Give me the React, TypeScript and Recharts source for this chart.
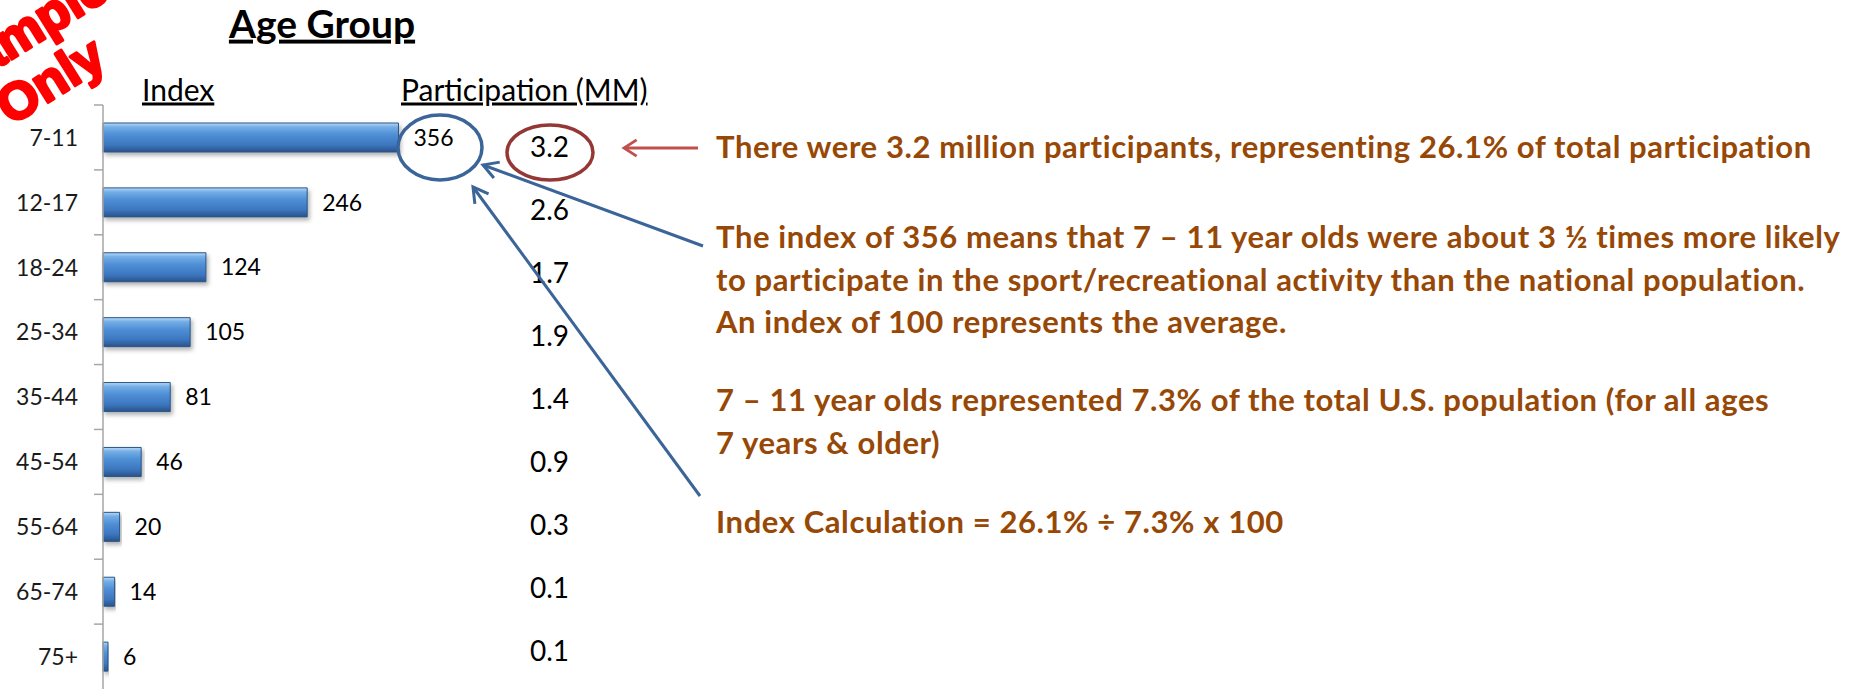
import React from 'react';
import { BarChart, Bar, XAxis, YAxis, LabelList } from 'recharts';

// ---- data ----
const ageGroups = ['7-11', '12-17', '18-24', '25-34', '35-44', '45-54', '55-64', '65-74', '75+'];
const indexValues = [356, 246, 124, 105, 81, 46, 20, 14, 6];
const participationMM = ['3.2', '2.6', '1.7', '1.9', '1.4', '0.9', '0.3', '0.1', '0.1'];

const chartData = ageGroups.map((age, i) => ({ age, index: indexValues[i], participation: participationMM[i] }));

// ---- layout ----
const W = 1862;
const H = 689;
const TOP = 105;
const AXIS_X = 103;
const BAND = (H - TOP) / ageGroups.length;
const FONT = "Lato, 'Open Sans', sans-serif";
const BROWN = '#974806';
const BLUE_LINE = '#3b6598';

const CategoryTick = (props: any) => {
  const { x, y, payload } = props;
  return (
    <g>
      <line x1={AXIS_X - 9} x2={AXIS_X} y1={y - BAND / 2} y2={y - BAND / 2} stroke="#a6a6a6" strokeWidth={1.5} />
      <text x={x} y={y} dy="0.36em" textAnchor="end" fontFamily={FONT} fontSize={23} fill="#1a1a1a">
        {payload.value}
      </text>
    </g>
  );
};

const ParticipationTick = (props: any) => {
  const { x, y, index } = props;
  return (
    <text x={x} y={y} dy="0.36em" textAnchor="start" fontFamily={FONT} fontSize={28} fill="#000">
      {participationMM[index]}
    </text>
  );
};

function arrowHead(tx: number, ty: number, fx: number, fy: number, len: number, ang: number) {
  const a = Math.atan2(fy - ty, fx - tx);
  const p1 = [tx + len * Math.cos(a + ang), ty + len * Math.sin(a + ang)];
  const p2 = [tx + len * Math.cos(a - ang), ty + len * Math.sin(a - ang)];
  return `M${p1[0]},${p1[1]} L${tx},${ty} L${p2[0]},${p2[1]}`;
}

const Overlay = () => (
  <svg width={W} height={H} style={{ position: 'absolute', left: 0, top: 0, pointerEvents: 'none' }}>
    {/* Sample Only stamp */}
    <g transform="translate(50,80) rotate(-32)" fontFamily="'Liberation Sans', Arial, sans-serif" fontWeight={700} fontSize={52} fill="#ff0000" stroke="#ff0000" strokeWidth={3} strokeLinejoin="round" textAnchor="middle">
      <text x={4} y={-56} dy="0.35em">Sample</text>
      <text x={0} y={0} dy="0.35em">Only</text>
    </g>

    {/* headers */}
    <text x={322} y={24} dy="0.35em" textAnchor="middle" fontFamily={FONT} fontWeight={700} fontSize={39} fill="#000" textDecoration="underline">Age Group</text>
    <text x={142} y={90} dy="0.35em" fontFamily={FONT} fontSize={30} fill="#000" textDecoration="underline">Index</text>
    <text x={401} y={90} dy="0.35em" fontFamily={FONT} fontSize={30} fill="#000" textDecoration="underline">Participation (MM)</text>

    {/* circles */}
    <ellipse cx={440} cy={147.5} rx={42} ry={32.5} fill="none" stroke={BLUE_LINE} strokeWidth={3.5} />
    <ellipse cx={550} cy={152.5} rx={43} ry={27.5} fill="none" stroke="#953735" strokeWidth={3.5} />

    {/* red arrow */}
    <line x1={698} y1={148} x2={624} y2={148} stroke="#c0504d" strokeWidth={2.8} />
    <path d={arrowHead(624, 148, 698, 148, 15, Math.PI / 5.5)} fill="none" stroke="#c0504d" strokeWidth={2.8} />

    {/* blue arrows */}
    <line x1={703} y1={246} x2={483} y2={165} stroke={BLUE_LINE} strokeWidth={3} />
    <path d={arrowHead(483, 165, 703, 246, 17, Math.PI / 6)} fill="none" stroke={BLUE_LINE} strokeWidth={3} />
    <line x1={700} y1={496} x2={473} y2={187} stroke={BLUE_LINE} strokeWidth={3} />
    <path d={arrowHead(473, 187, 700, 496, 17, Math.PI / 6)} fill="none" stroke={BLUE_LINE} strokeWidth={3} />

    {/* annotation text */}
    <g fontFamily={FONT} fontWeight={700} fontSize={31} letterSpacing={0.6} fill={BROWN}>
      <text x={716} y={147} dy="0.35em">There were 3.2 million participants, representing 26.1% of total participation</text>
      <text x={716} y={237} dy="0.35em">The index of 356 means that 7 – 11 year olds were about 3 ½ times more likely</text>
      <text x={716} y={280} dy="0.35em">to participate in the sport/recreational activity than the national population.</text>
      <text x={716} y={322} dy="0.35em">An index of 100 represents the average.</text>
      <text x={716} y={400} dy="0.35em">7 – 11 year olds represented 7.3% of the total U.S. population (for all ages</text>
      <text x={716} y={443} dy="0.35em">7 years &amp; older)</text>
      <text x={716} y={522} dy="0.35em">Index Calculation = 26.1% ÷ 7.3% x 100</text>
    </g>
  </svg>
);

export default function App() {
  return (
    <div style={{ position: 'absolute', left: 0, top: 0, width: W, height: H, background: '#fff', overflow: 'hidden' }}>
      <BarChart
        width={W}
        height={H}
        data={chartData}
        layout="vertical"
        margin={{ top: TOP, right: 1284, bottom: 0, left: 0 }}
        barSize={29}
      >
        <defs>
          <linearGradient id="barGrad" x1="0" y1="0" x2="0" y2="1">
            <stop offset="0%" stopColor="#b8d9f8" />
            <stop offset="14%" stopColor="#74aee6" />
            <stop offset="40%" stopColor="#4f8fd6" />
            <stop offset="75%" stopColor="#3c77c0" />
            <stop offset="100%" stopColor="#2a5288" />
          </linearGradient>
          <filter id="barShadow" x="-5%" y="-30%" width="115%" height="180%">
            <feDropShadow dx={2} dy={3} stdDeviation={2} floodColor="#000" floodOpacity={0.3} />
          </filter>
        </defs>
        <XAxis type="number" dataKey="index" domain={[0, 500]} hide />
        <YAxis
          yAxisId="left"
          type="category"
          dataKey="age"
          width={AXIS_X}
          axisLine={{ stroke: '#a6a6a6', strokeWidth: 1.5 }}
          tickLine={false}
          tickSize={0}
          tickMargin={25}
          tick={<CategoryTick />}
          interval={0}
        />
        <YAxis
          yAxisId="right"
          orientation="right"
          type="category"
          dataKey="age"
          width={60}
          axisLine={false}
          tickLine={false}
          tickSize={0}
          tickMargin={12}
          padding={{ top: 10, bottom: 7 }}
          tick={<ParticipationTick />}
          interval={0}
        />
        <Bar
          yAxisId="left"
          dataKey="index"
          fill="url(#barGrad)"
          stroke="#2a5585"
          strokeWidth={1}
          filter="url(#barShadow)"
          isAnimationActive={false}
        >
          <LabelList dataKey="index" position="right" offset={15} fontFamily={FONT} fontSize={23} fill="#000" />
        </Bar>
      </BarChart>
      <Overlay />
    </div>
  );
}
